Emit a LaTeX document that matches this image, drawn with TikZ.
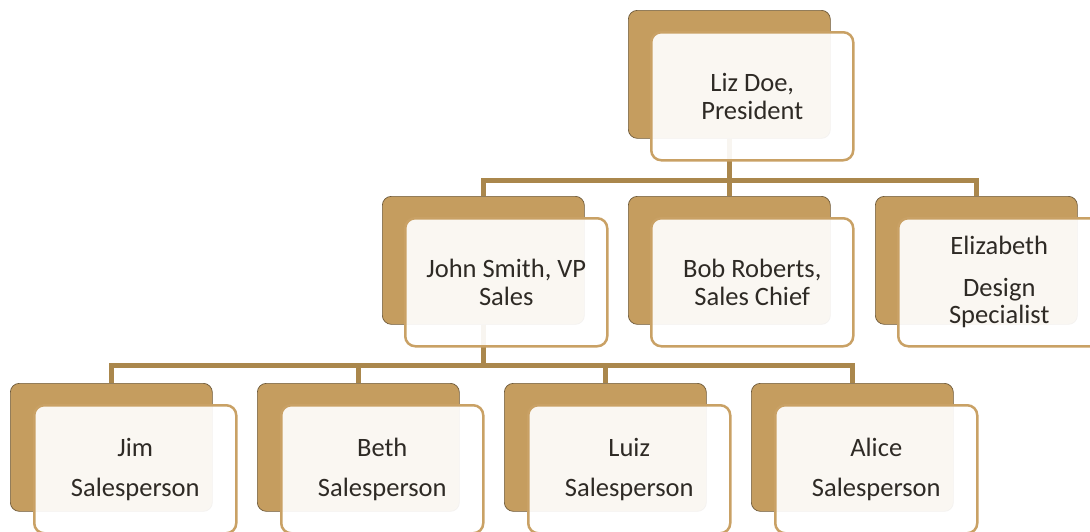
\documentclass[tikz,border=0pt]{standalone}
\usepackage{fontspec}
\setmainfont{Carlito}
\definecolor{tanfill}{HTML}{C59D5F}
\definecolor{edge}{HTML}{6E5A3A}
\definecolor{border}{HTML}{C9A165}
\definecolor{linkc}{HTML}{AA874C}
\definecolor{ink}{HTML}{2E2A25}
\begin{document}
\begin{tikzpicture}[x=1pt,y=-1pt,
  backbox/.style={draw=edge, line width=0.7pt, fill=tanfill, rounded corners=9pt,
    minimum width=202pt, minimum height=128pt, inner sep=0pt, anchor=north west},
  frontbox/.style={draw=border, line width=2.5pt, fill=white, fill opacity=0.92,
    text opacity=1, rounded corners=10pt, minimum width=202pt, minimum height=128pt,
    inner sep=2pt, anchor=north west, align=center,
    font=\fontsize{26.5}{27.5}\selectfont, text=ink},
  link/.style={draw=linkc, line width=5pt}]
\useasboundingbox (0,0) rectangle (1090,531);
\clip (0,0) rectangle (1090,531);
% back boxes
\node[backbox] (lizB) at (628,10) {};
\node[backbox] (johnB) at (382,196) {};
\node[backbox] (bobB) at (628,196) {};
\node[backbox] (elizB) at (875,196) {};
\node[backbox] (jimB) at (10,383) {};
\node[backbox] (bethB) at (257,383) {};
\node[backbox] (luizB) at (504,383) {};
\node[backbox] (aliceB) at (751,383) {};
% bars
\coordinate (bar1) at (0,180);
\coordinate (bar2) at (0,365);
% connectors
\draw[link] (lizB.south) -- (bobB.north);
\draw[link] (johnB.north) |- (elizB.north |- bar1) -- (elizB.north);
\draw[link] (johnB.south) -- (johnB.south |- bar2);
\draw[link] (jimB.north) |- (aliceB.north |- bar2) -- (aliceB.north);
\draw[link] (bethB.north) -- (bethB.north |- bar2);
\draw[link] (luizB.north) -- (luizB.north |- bar2);
% front boxes
\node[frontbox] (liz) at (650,31) {Liz Doe,\\President};
\node[frontbox] (john) at (404,217) {John Smith, VP\\Sales};
\node[frontbox] (bob) at (650,217) {Bob Roberts,\\Sales Chief};
\node[frontbox] (eliz) at (897,217) {Elizabeth\\[14pt]Design\\Specialist};
\node[frontbox] (jim) at (33,404) {Jim\\[12.5pt]Salesperson};
\node[frontbox] (beth) at (280,404) {Beth\\[12.5pt]Salesperson};
\node[frontbox] (luiz) at (527,404) {Luiz\\[12.5pt]Salesperson};
\node[frontbox] (alice) at (774,404) {Alice\\[12.5pt]Salesperson};
\end{tikzpicture}
\end{document}
